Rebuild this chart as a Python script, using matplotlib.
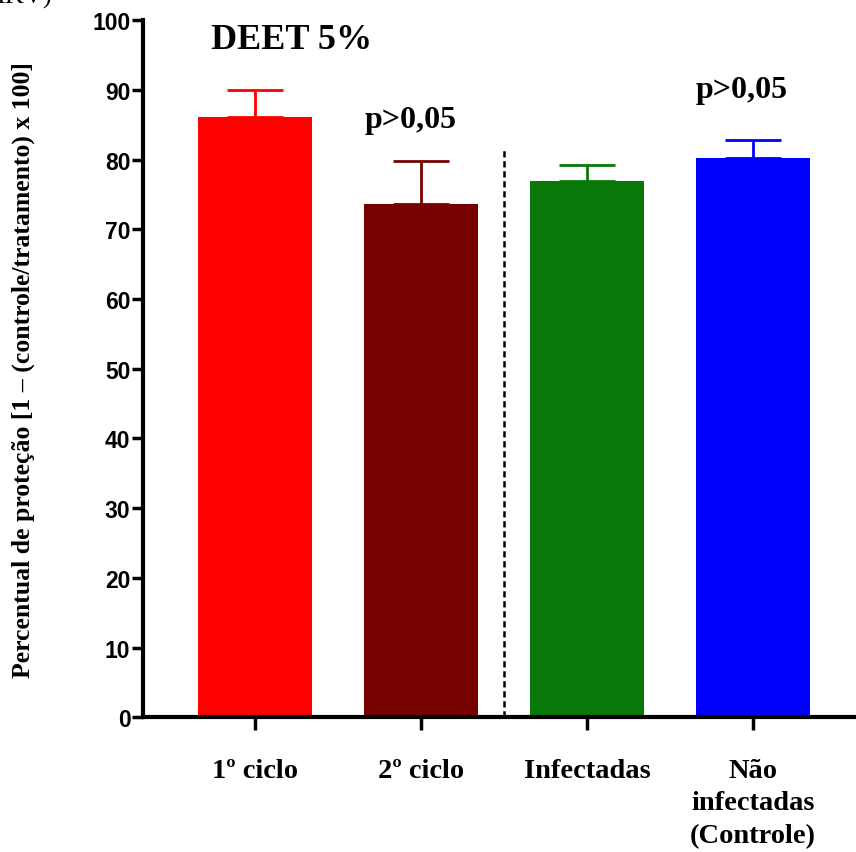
import matplotlib
matplotlib.use("Agg")
import matplotlib.pyplot as plt

categories = ["1º ciclo", "2º ciclo", "Infectadas", "Não\ninfectadas\n(Controle)"]
values = [86.1, 73.6, 76.9, 80.2]
errors = [3.9, 6.2, 2.4, 2.6]
colors = ["#ff0000", "#770000", "#087808", "#0000ff"]
yticks = [0, 10, 20, 30, 40, 50, 60, 70, 80, 90, 100]

fig = plt.figure(figsize=(8.56, 8.53), dpi=100)
ax = fig.add_axes([0.167, 0.158, 0.833, 0.817])

x = list(range(len(categories)))
bars = ax.bar(x, values, width=0.69, color=colors, zorder=2)
for xi, v, e, c in zip(x, values, errors, colors):
    ax.errorbar(xi, v, yerr=[[0], [e]], fmt="none", ecolor=c, elinewidth=2,
                capsize=20, capthick=2, zorder=1)

ax.set_xlim(-0.675, 3.62)
ax.set_ylim(0, 100)
ax.set_yticks(yticks)
ax.set_yticklabels([str(t) for t in yticks], fontfamily="Liberation Sans",
                   fontweight="bold", fontsize=16.5)
ax.set_xticks(x)
ax.set_xticklabels(categories, fontfamily="Liberation Serif", fontweight="bold",
                   fontsize=20.5, va="top", linespacing=1.4)
ax.tick_params(axis="x", length=9, width=2.5, pad=20)
ax.tick_params(axis="y", length=8, width=2.5, pad=1)
for s in ["top", "right"]:
    ax.spines[s].set_visible(False)
ax.spines["left"].set_linewidth(3)
ax.spines["bottom"].set_linewidth(3)

ax.plot([1.5, 1.5], [0, 81.5], color="black", linestyle=(0, (2.5, 1.5)), linewidth=1.8)

ax.text(0.22, 97.2, "DEET 5%", ha="center", va="center", fontfamily="Liberation Serif",
        fontweight="bold", fontsize=26)
ax.text(0.94, 85.8, "p>0,05", ha="center", va="center", fontfamily="Liberation Serif",
        fontweight="bold", fontsize=23)
ax.text(2.93, 90.1, "p>0,05", ha="center", va="center", fontfamily="Liberation Serif",
        fontweight="bold", fontsize=23)

ax.set_ylabel("Percentual de proteção [1 – (controle/tratamento) x 100]",
              fontfamily="Liberation Serif", fontweight="bold", fontsize=18.5)
ax.yaxis.set_label_coords(-0.151, 0.5)

fig.text(-0.004, 1.003, "IKV)", ha="left", va="center", fontfamily="Liberation Serif",
         fontsize=19)

fig.savefig("out.png", dpi=100)
